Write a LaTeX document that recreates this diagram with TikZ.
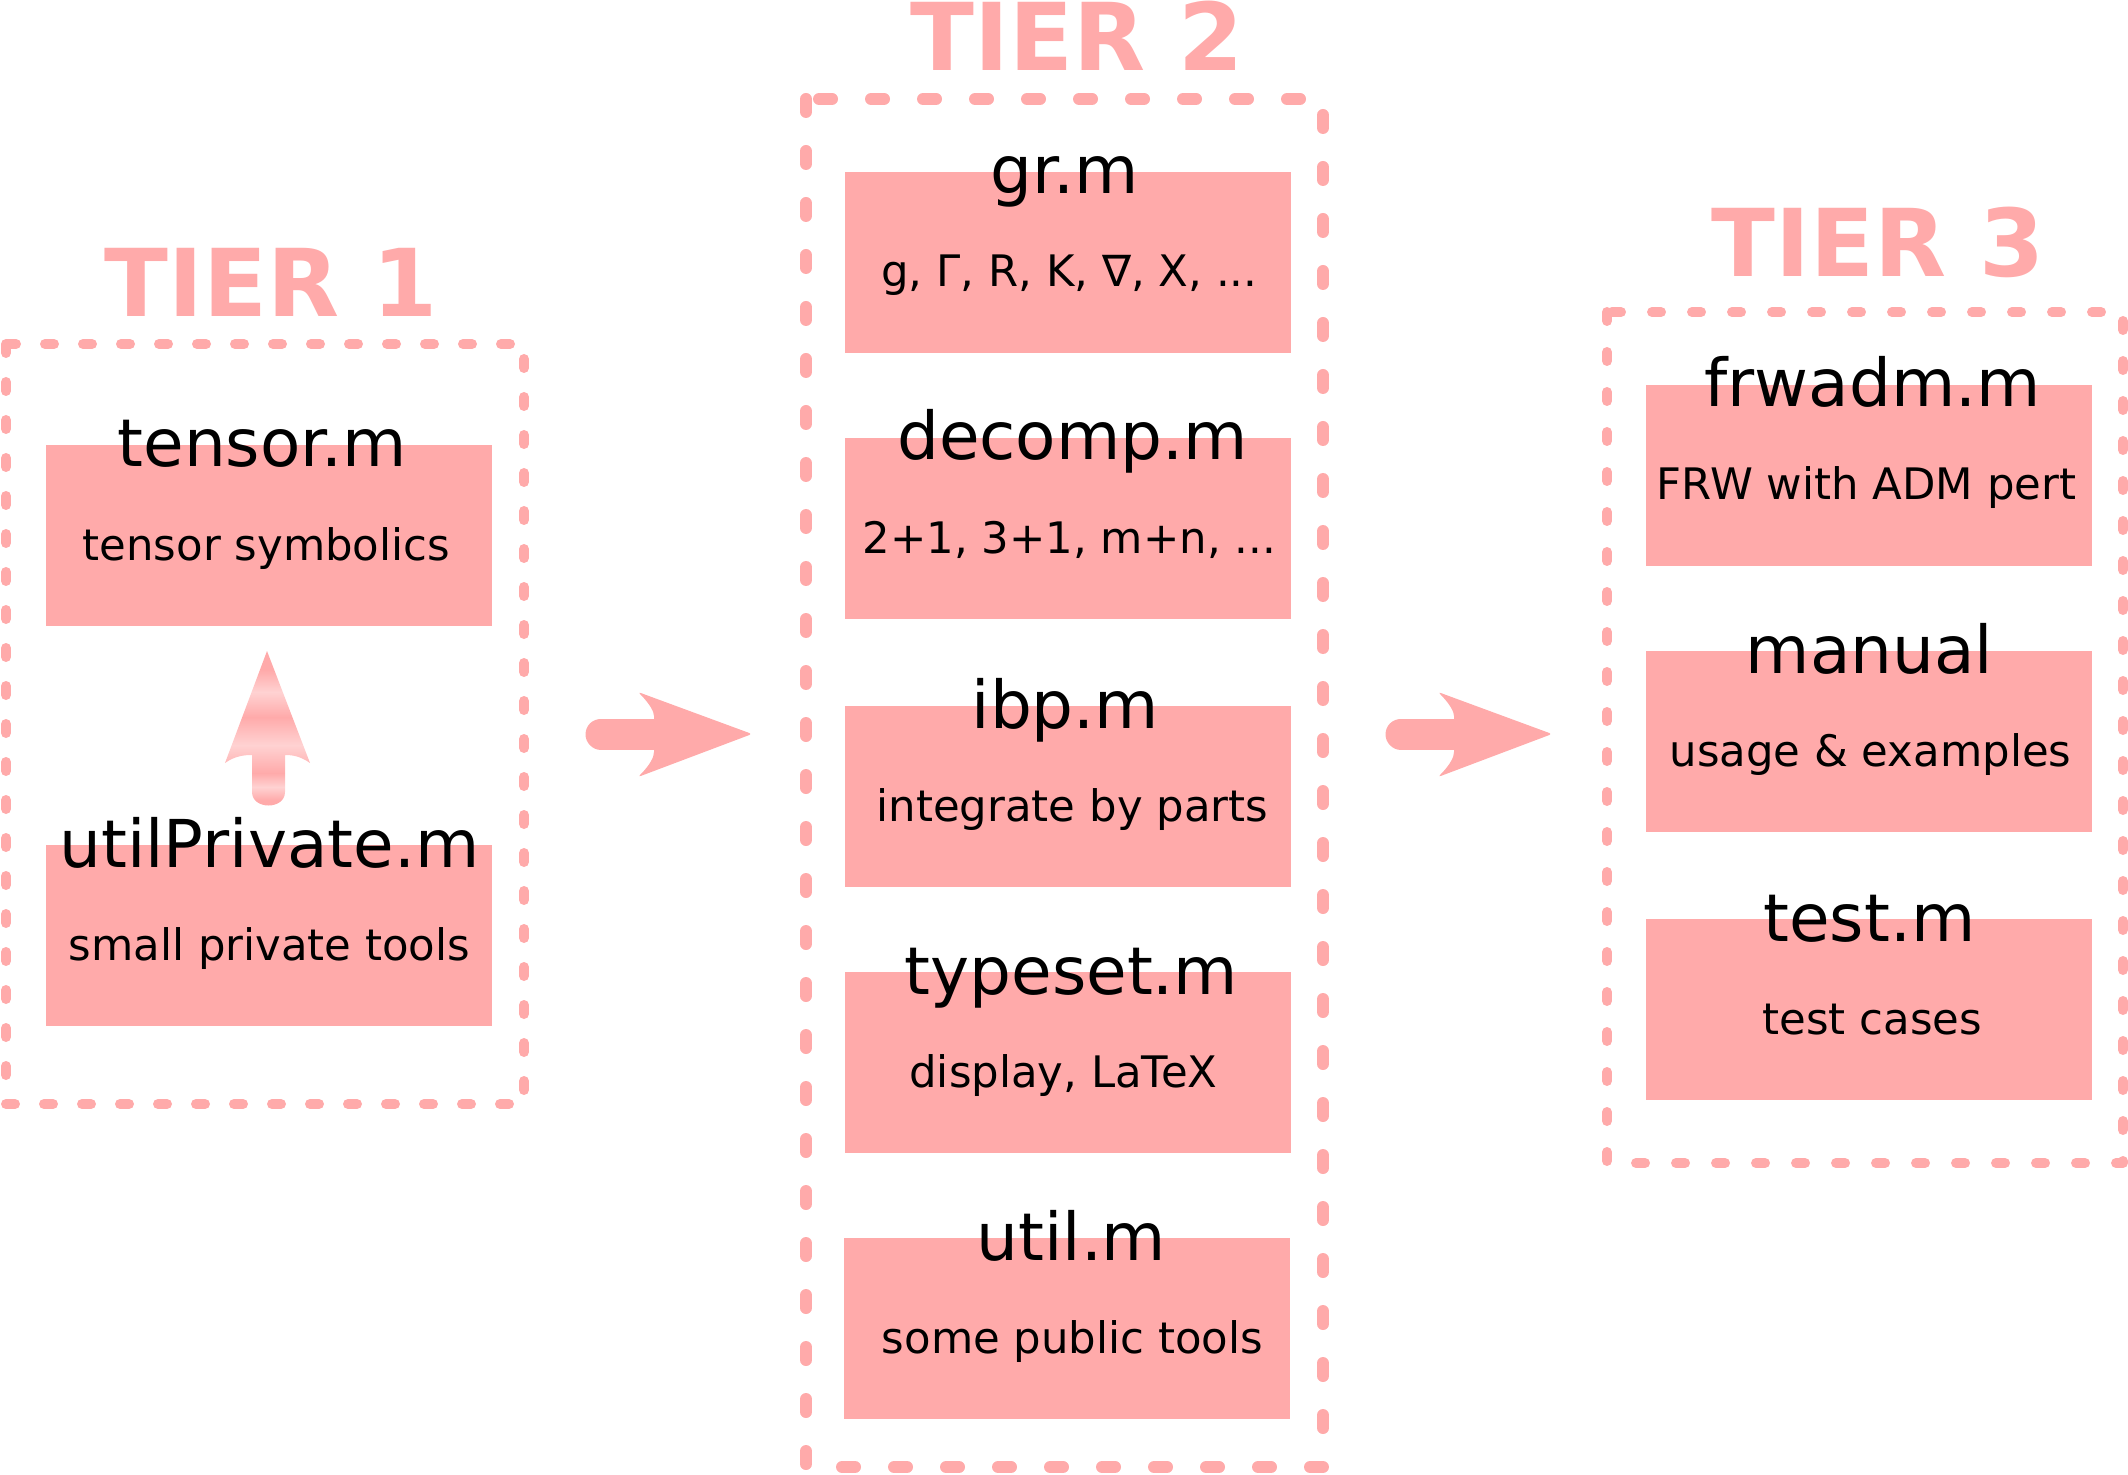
\documentclass[tikz,border=0pt]{standalone}
\usepackage{fontspec}
\setmainfont{DejaVu Sans}
\usetikzlibrary{calc}
\definecolor{pk}{RGB}{255,170,170}
\definecolor{pl}{RGB}{255,210,210}
\pgfdeclareverticalshading{arrowstripes}{100bp}{color(0bp)=(pk); color(25bp)=(pk); color(28bp)=(pk); color(32.2bp)=(pl); color(36.6bp)=(pk); color(45.4bp)=(pl); color(54.2bp)=(pk); color(62.1bp)=(pl); color(69bp)=(pk); color(100bp)=(pk)}
% #1 name, #2 left, #3 top, #4 title, #5 subtitle, #6 title dx, #7 subtitle dx
\newcommand\mymod[7]{%
  \node[modbox] (#1) at (#2,#3) {};
  \node[modname] (#1t) at ($(#1.north)+(#6,22)$) {#4};
  \node[modsub] (#1s) at ($(#1.north)+(#7,115)$) {#5};}
\begin{document}
\begin{tikzpicture}[x=0.5pt,y=-0.5pt,
  modbox/.style={fill=pk, draw=none, minimum width=223pt, minimum height=90.5pt, inner sep=0pt, anchor=north west},
  modname/.style={font=\fontsize{33}{40}\selectfont, inner sep=0pt, anchor=base},
  modsub/.style={font=\fontsize{21.7}{26}\selectfont, inner sep=0pt, anchor=base},
  tiertitle/.style={font=\fontsize{46.8}{56}\selectfont\bfseries, text=pk, inner sep=0pt, anchor=base},
  tierframe/.style={draw=pk, line cap=round, line join=round},
  shaft/.style={draw=pk, line width=15.5pt, line cap=round},
]
\useasboundingbox (0,0) rectangle (2128,1475);

% tier frames
\draw[tierframe, line width=5pt, dash pattern=on 4.5pt off 14.5pt] (6,344) rectangle (524,1104);
\draw[tierframe, line width=6pt, dash pattern=on 6.5pt off 19.5pt] (806,99) rectangle (1323,1467);
\draw[tierframe, line width=5pt, dash pattern=on 4.5pt off 15.5pt] (1607,312) rectangle (2123,1163);

% titles
\node[tiertitle] (t1) at (271,317) {TIER 1};
\node[tiertitle] (t2) at (1077,71) {TIER 2};
\node[tiertitle] (t3) at (1878,277) {TIER 3};

% tier 1
\mymod{tensor}{46}{445}{tensor.m}{tensor symbolics}{-7}{-3}
\mymod{utilp}{46}{845}{utilPrivate.m}{small private tools}{0}{0}

% tier 2
\mymod{gr}{845}{172}{gr.m}{g, Γ, R, K, ∇, X, ...}{-4}{1}
\mymod{decomp}{845}{438}{decomp.m}{2+1, 3+1, m+n, ...}{4}{1}
\mymod{ibp}{845}{706}{ibp.m}{integrate by parts}{-3}{4}
\mymod{typeset}{845}{972}{typeset.m}{display, LaTeX}{3}{-5}
\mymod{util}{844}{1238}{util.m}{some public tools}{4}{5}

% tier 3
\mymod{frwadm}{1646}{385}{frwadm.m}{FRW with ADM pert}{3}{-3}
\mymod{manual}{1646}{651}{manual}{usage \& examples}{0}{1}
\mymod{test}{1646}{919}{test.m}{test cases}{0}{3}

% up arrow (utilPrivate -> tensor)
\shade[shading=arrowstripes] (267,651) -- (310,763) .. controls (300,756) and (292,755) .. (285,755)
  -- (285,792) .. controls (285,810) and (252,810) .. (252,792)
  -- (252,755) .. controls (244,755) and (235,756) .. (225,763) -- cycle;

% right arrows
\foreach \dx/\nm in {0/a, 800/b} {
  \begin{scope}[shift={(\dx,0)}]
    \coordinate (\nm s) at (601,734);
    \coordinate (\nm e) at (655,734);
    \draw[shaft] (\nm s) -- (\nm e);
    \fill[pk, rounded corners=1.5pt] (752,734) -- (638,692) .. controls (650,704) and (654,712) .. (654,719)
      -- (654,749) .. controls (654,757) and (650,765) .. (638,777) -- cycle;
  \end{scope}
}
\end{tikzpicture}
\end{document}
